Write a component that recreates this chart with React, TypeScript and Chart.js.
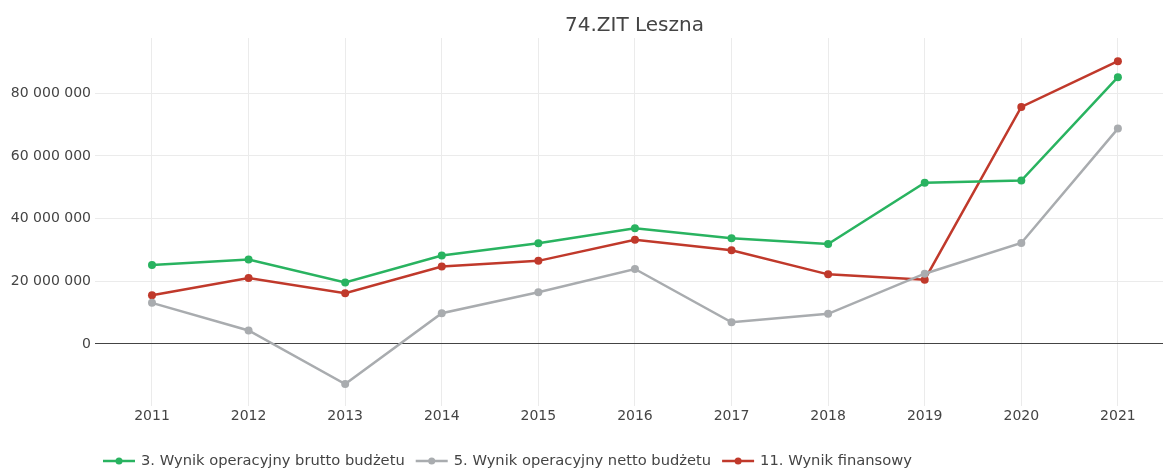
import React, { useEffect, useRef } from "react";
import { Chart, registerables } from "chart.js";

Chart.register(...registerables);

const titleText = "74.ZIT Leszna";
const years = [2011, 2012, 2013, 2014, 2015, 2016, 2017, 2018, 2019, 2020, 2021];
const yTickValues = [0, 20000000, 40000000, 60000000, 80000000];

const seriesNames = [
  "3. Wynik operacyjny brutto budżetu",
  "5. Wynik operacyjny netto budżetu",
  "11. Wynik finansowy",
];
const seriesColors = ["#29b360", "#a9acaf", "#c0392b"];

const brutto = [25200000, 26900000, 19600000, 28200000, 32100000, 36900000, 33700000, 31900000, 51400000, 52100000, 85100000];
const netto = [13100000, 4300000, -12800000, 9800000, 16500000, 23900000, 6900000, 9600000, 22400000, 32200000, 68700000];
const finansowy = [15500000, 21000000, 16200000, 24700000, 26500000, 33200000, 29900000, 22200000, 20500000, 75600000, 90200000];

const seriesValues = [brutto, netto, finansowy];

const FONT = "'DejaVu Sans', Verdana, sans-serif";
const TEXT = "#444";

function fmt(v: number): string {
  const s = Math.round(Math.abs(v)).toString().replace(/\B(?=(\d{3})+(?!\d))/g, " ");
  return (v < 0 ? "-" : "") + s;
}

const overlay = {
  id: "overlay",
  afterDraw(chart: any) {
    const ctx = chart.ctx as CanvasRenderingContext2D;
    ctx.save();
    // title
    ctx.fillStyle = TEXT;
    ctx.font = `20px ${FONT}`;
    ctx.textAlign = "center";
    ctx.textBaseline = "alphabetic";
    ctx.fillText(titleText, 634.5, 30.5);
    // legend
    ctx.font = `14.7px ${FONT}`;
    ctx.textAlign = "left";
    ctx.textBaseline = "middle";
    let x = 103;
    const y = 461;
    chart.data.datasets.forEach((ds: any) => {
      ctx.strokeStyle = ds.borderColor;
      ctx.lineWidth = 2.5;
      ctx.beginPath();
      ctx.moveTo(x, y);
      ctx.lineTo(x + 32, y);
      ctx.stroke();
      ctx.fillStyle = ds.borderColor;
      ctx.beginPath();
      ctx.arc(x + 16, y, 3.5, 0, Math.PI * 2);
      ctx.fill();
      ctx.fillStyle = TEXT;
      ctx.fillText(ds.label, x + 38, y);
      x += 38 + ctx.measureText(ds.label).width + 11;
    });
    ctx.restore();
  },
};

export default function App() {
  const ref = useRef<HTMLCanvasElement | null>(null);
  useEffect(() => {
    if (!ref.current) return;
    const chart = new Chart(ref.current, {
      type: "line",
      data: {
        datasets: seriesNames.map((name, i) => ({
          label: name,
          data: years.map((yr, j) => ({ x: yr, y: seriesValues[i][j] })),
          borderColor: seriesColors[i],
          backgroundColor: seriesColors[i],
          pointBackgroundColor: seriesColors[i],
          pointBorderWidth: 0,
          pointRadius: 4,
          borderWidth: 2.5,
          tension: 0,
          fill: false,
          clip: false as any,
        })),
      },
      options: {
        animation: false,
        responsive: false,
        devicePixelRatio: 1,
        layout: { autoPadding: false, padding: { top: 38, left: 0, right: 0, bottom: 41 } },
        plugins: {
          legend: { display: false },
          title: { display: false },
          tooltip: { enabled: false },
        },
        scales: {
          x: {
            type: "linear",
            min: 2010.41,
            max: 2021.467,
            afterBuildTicks: (scale: any) => {
              scale.ticks = years.map((v) => ({ value: v }));
            },
            afterFit: (scale: any) => {
              scale.height = 22;
              scale.paddingLeft = 0;
              scale.paddingRight = 0;
            },
            grid: { color: "#ebebeb", drawTicks: false, lineWidth: 1 },
            border: { display: false },
            ticks: {
              padding: 2,
              color: TEXT,
              font: { family: FONT, size: 14 },
              callback: (v: any) => String(v),
              maxRotation: 0,
              autoSkip: false,
            },
          },
          y: {
            type: "linear",
            min: -19800000,
            max: 97600000,
            afterBuildTicks: (scale: any) => {
              scale.ticks = yTickValues.map((v) => ({ value: v }));
            },
            afterFit: (scale: any) => {
              scale.width = 95;
              scale.paddingTop = 0;
              scale.paddingBottom = 0;
            },
            grid: {
              color: (c: any) => (c.tick && c.tick.value === 0 ? "#444444" : "#ebebeb"),
              drawTicks: false,
              lineWidth: 1,
            },
            border: { display: false },
            ticks: {
              padding: 4,
              color: TEXT,
              font: { family: FONT, size: 14 },
              callback: (v: any) => fmt(Number(v)),
            },
          },
        },
      },
      plugins: [overlay],
    });
    return () => chart.destroy();
  }, []);
  return (
    <div style={{ position: "fixed", left: 0, top: 0, width: 1163, height: 469, background: "#fff" }}>
      <canvas ref={ref} width={1163} height={469} style={{ display: "block" }} />
    </div>
  );
}
